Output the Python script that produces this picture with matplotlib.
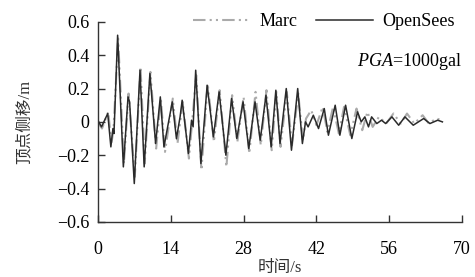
import matplotlib
matplotlib.use("Agg")
from matplotlib import pyplot as plt

plt.rcParams['font.family'] = ['Liberation Serif', 'Noto Sans CJK SC']
plt.rcParams['mathtext.fontset'] = 'custom'
plt.rcParams['mathtext.rm'] = 'Liberation Serif'
plt.rcParams['mathtext.it'] = 'Liberation Serif:italic'

# OpenSees response, read at peaks/troughs
t_os = [0.0, 0.7, 1.9, 2.5, 2.9, 3.1, 3.8, 4.9, 5.8, 6.1, 7.0, 8.1, 8.9, 10.0, 11.1,
        12.0, 12.7, 14.3, 15.1, 15.8, 16.2, 17.4, 18.0, 18.3, 18.8, 19.8, 21.0, 22.2,
        23.3, 24.6, 25.7, 26.7, 27.9, 29.0, 30.2, 31.2, 32.3, 33.3, 34.2, 35.0, 36.2,
        37.2, 38.4, 39.3, 39.9, 40.4, 41.4, 42.4, 43.5, 44.3, 45.6, 46.5, 47.6, 48.8,
        49.9, 50.6, 51.3, 52.0, 52.6, 53.6, 54.5, 55.3, 56.5, 57.8, 59.0, 60.6, 62.6,
        63.8, 65.3, 66.2]
d_os = [0.01, -0.03, 0.05, -0.15, -0.04, -0.07, 0.52, -0.27, 0.15, 0.12, -0.37, 0.31,
        -0.27, 0.29, -0.13, 0.15, -0.15, 0.12, -0.10, 0.03, 0.13, -0.19, 0.01, -0.03,
        0.31, -0.25, 0.22, -0.09, 0.18, -0.20, 0.14, -0.10, 0.12, -0.16, 0.12, -0.11,
        0.16, -0.15, 0.19, -0.13, 0.20, -0.17, 0.20, -0.13, 0.0, -0.03, 0.04, -0.04,
        0.08, -0.08, 0.10, -0.08, 0.10, -0.10, 0.06, 0.0, 0.03, -0.03, 0.03, -0.01,
        0.01, -0.01, 0.03, -0.02, 0.03, -0.02, 0.02, -0.01, 0.01, 0.0]

# Marc response, read at peaks/troughs
t_mc = [0.0, 0.8, 2.0, 2.6, 3.0, 3.9, 5.0, 5.9, 7.1, 8.2, 9.0, 10.1, 11.2, 12.1, 12.9,
        14.4, 15.3, 16.3, 17.5, 18.9, 19.9, 21.1, 22.3, 23.4, 24.7, 25.8, 26.8, 28.0,
        29.1, 30.3, 31.3, 32.4, 33.4, 34.3, 35.1, 36.3, 37.3, 38.5, 39.4, 40.0, 41.0,
        42.0, 43.2, 44.1, 45.2, 46.3, 47.3, 48.5, 49.7, 50.8, 51.8, 52.8, 54.0, 55.4,
        56.8, 58.2, 59.4, 60.8, 62.4, 63.6, 65.0, 66.2]
d_mc = [0.0, -0.04, 0.06, -0.13, -0.05, 0.50, -0.25, 0.17, -0.33, 0.33, -0.25, 0.30,
        -0.16, 0.14, -0.18, 0.14, -0.13, 0.12, -0.22, 0.28, -0.29, 0.23, -0.12, 0.19,
        -0.27, 0.16, -0.12, 0.15, -0.19, 0.18, -0.14, 0.19, -0.17, 0.18, -0.15, 0.18,
        -0.14, 0.17, -0.11, 0.02, 0.07, -0.02, 0.09, -0.06, 0.09, -0.07, 0.09, -0.08,
        0.08, -0.05, 0.06, -0.03, 0.03, -0.01, 0.05, -0.01, 0.05, -0.01, 0.04, -0.01,
        0.02, 0.01]

x_ticks = [0, 14, 28, 42, 56, 70]
y_ticks = [-0.6, -0.4, -0.2, 0, 0.2, 0.4, 0.6]
y_labels = ['\u22120.6', '\u22120.4', '\u22120.2', '0', '0.2', '0.4', '0.6']

fig = plt.figure(figsize=(4.75, 2.77), dpi=100)
ax = fig.add_axes([0.206, 0.199, 0.767, 0.722])

ax.plot(t_mc, d_mc, color='#aaaaaa', lw=1.5, ls=(0, (6, 2, 1, 2, 1, 2)), label='Marc')
ax.plot(t_os, d_os, color='#2a2a2a', lw=1.1, label='OpenSees')

ax.set_xlim(0, 70)
ax.set_ylim(-0.6, 0.6)
ax.set_xticks(x_ticks)
ax.set_yticks(y_ticks)
ax.set_yticklabels(y_labels)
ax.tick_params(direction='in', length=5, width=1, labelsize=13, colors='#333333',
               labelcolor='black', pad=6)
ax.tick_params(axis='x', pad=14)
for s in ['top', 'right']:
    ax.spines[s].set_visible(False)
for s in ['left', 'bottom']:
    ax.spines[s].set_color('#333333')
    ax.spines[s].set_linewidth(1)

ax.set_xlabel('时间/s', fontsize=12, color='#333333')
ax.set_ylabel('顶点侧移/m', fontsize=12, color='#333333')
ax.xaxis.set_label_coords(0.5, -0.19)
ax.yaxis.set_label_coords(-0.18, 0.5)

ax.legend(loc='upper right', ncol=2, frameon=False, fontsize=13, handlelength=3.2,
          columnspacing=1.0, handletextpad=0.5, borderaxespad=0.0,
          bbox_to_anchor=(1.0, 1.08))
ax.text(1.0, 0.80, '$\\it{PGA}$=1000gal', transform=ax.transAxes, ha='right',
        va='center', fontsize=13)

fig.savefig('out.png', dpi=100)
